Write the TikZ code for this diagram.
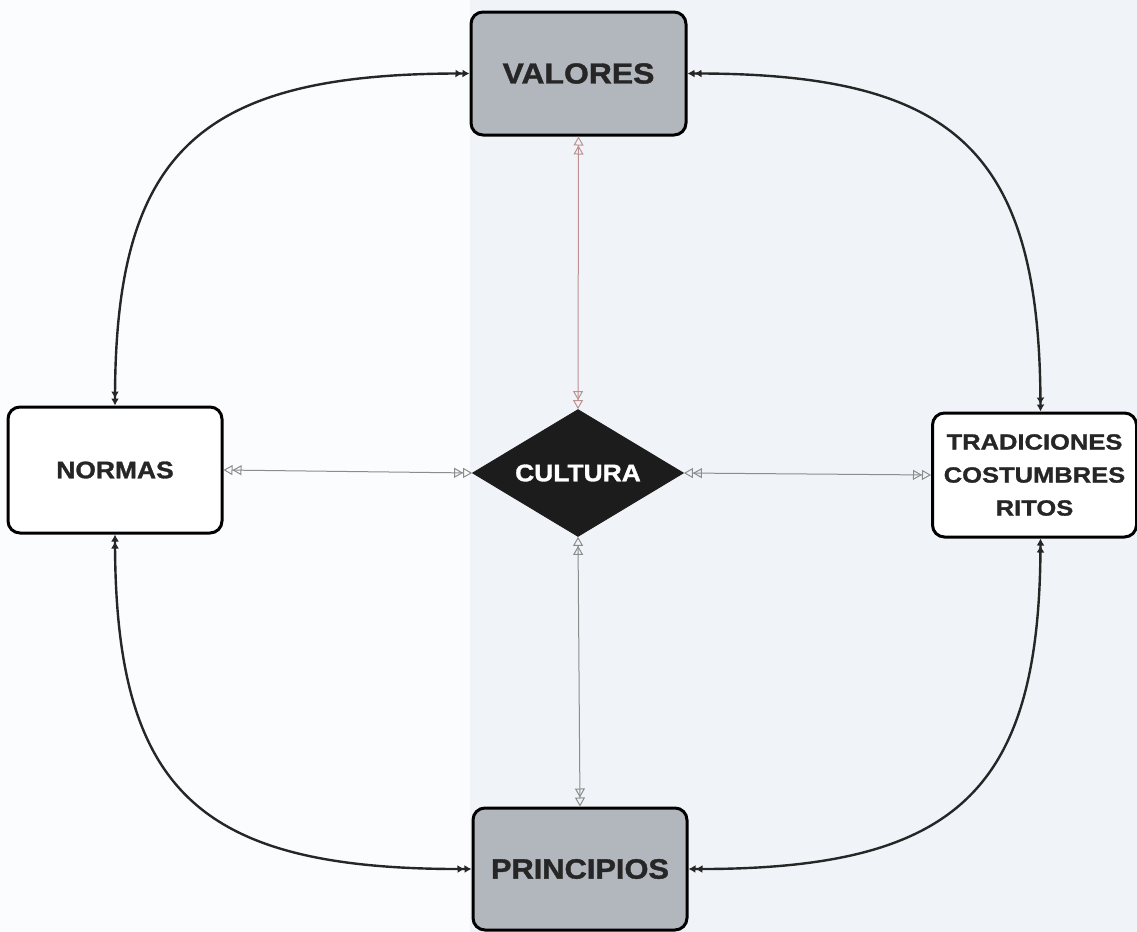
\documentclass[tikz,border=0pt]{standalone}
\usepackage{fontspec}
\setmainfont{Liberation Sans}
\newfontfamily\heavy{Liberation Sans Bold}[FakeBold=1.3,FakeStretch=1.1]
\newfontfamily\heavyw{Liberation Sans Bold}[FakeBold=1.2,FakeStretch=1.16]
\usetikzlibrary{arrows.meta,shapes.geometric}
\definecolor{bgleft}{RGB}{251,252,253}
\definecolor{bgright}{RGB}{240,244,248}
\definecolor{boxgray}{RGB}{178,182,189}
\definecolor{thin}{RGB}{140,140,140}
\definecolor{thinred}{RGB}{190,145,145}
\definecolor{dark}{RGB}{28,28,28}
\tikzset{
  dd/.tip={Latex[length=3.5pt,width=4pt] Latex[length=3.5pt,width=4pt]},
  oo/.tip={Triangle[open,length=4.5pt,width=5pt] Triangle[open,length=4.5pt,width=5pt]},
  box/.style={draw=black, line width=1.5pt, rounded corners=6pt, inner sep=0pt, text=black!85},
  curve/.style={line width=1.2pt, draw=black!85, dd-dd},
  link/.style={line width=0.5pt, draw=thin, oo-oo},
}
\begin{document}
\begin{tikzpicture}[x=0.5pt,y=-0.5pt]
\useasboundingbox (0,0) rectangle (1137,932);
\fill[bgleft] (0,0) rectangle (470,932);
\fill[bgright] (470,0) rectangle (1137,932);

\node[box, fill=boxgray, minimum width=107.5pt, minimum height=61.5pt,
      font=\heavy\fontsize{14.5}{17}\selectfont] (val) at (578.5,73.5) {VALORES};
\node[box, fill=boxgray, minimum width=107pt, minimum height=61pt,
      font=\heavy\fontsize{14}{17}\selectfont] (pri) at (580,869) {PRINCIPIOS};
\node[box, fill=white, minimum width=107pt, minimum height=63pt,
      font=\heavy\fontsize{12}{14}\selectfont] (nor) at (115,470) {NORMAS};
\node[box, fill=white, minimum width=102pt, minimum height=62pt, align=center,
      font=\heavyw\fontsize{11}{16.5}\selectfont] (tra) at (1034.5,475) {TRADICIONES\\COSTUMBRES\\RITOS};
\node[diamond, shape aspect=1.66, fill=dark, draw=dark, inner sep=0pt,
      minimum width=105.5pt, minimum height=63.5pt, text=white,
      font=\heavy\fontsize{12}{14}\selectfont] (cul) at (578,473) {CULTURA};

\draw[curve] (val.west) .. controls (200,73) and (115,150) .. (nor.north);
\draw[curve] (val.east) .. controls (955,73) and (1040,150) .. ([xshift=3pt]tra.north);
\draw[curve] (pri.west) .. controls (200,870) and (115,793) .. (nor.south);
\draw[curve] (pri.east) .. controls (955,870) and (1040,793) .. ([xshift=3pt]tra.south);

\draw[link, draw=thinred] (val.south) -- (cul.north);
\draw[link] (cul.south) -- (pri.north);
\draw[link] (nor.east) -- (cul.west);
\draw[link] (cul.east) -- (tra.west);
\end{tikzpicture}
\end{document}
